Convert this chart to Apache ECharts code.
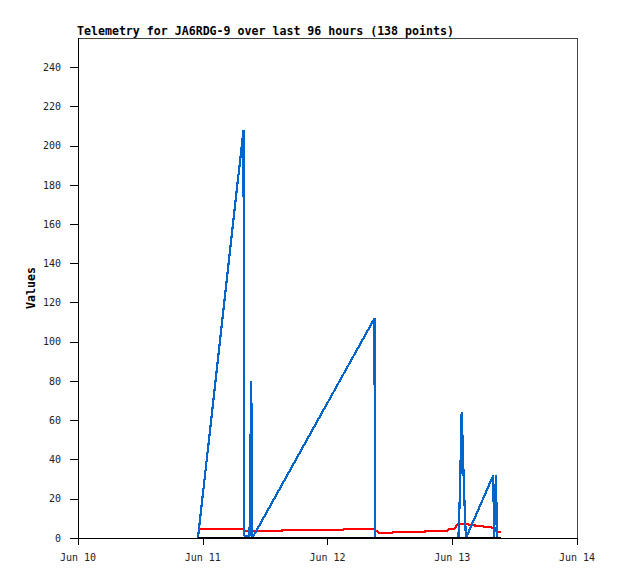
<!DOCTYPE html>
<html>
<head>
<meta charset="utf-8">
<title>Telemetry for JA6RDG-9</title>
<script src="https://cdn.jsdelivr.net/npm/echarts@6/dist/echarts.min.js"></script>
<style>
  html, body { margin: 0; padding: 0; background: #fff; }
  #chart { width: 618px; height: 579px; }
  /* the original is a pixel-drawn image: keep lines hard-edged */
  #chart svg path { shape-rendering: crispEdges; }
</style>
</head>
<body>
<div id="chart"></div>
<script>
// data; times are "Jun DD hh:mm"
var dayTicks = ['Jun 10', 'Jun 11', 'Jun 12', 'Jun 13', 'Jun 14'];
var valueTicks = [0, 20, 40, 60, 80, 100, 120, 140, 160, 180, 200, 220, 240];

var blueTimes = ['Jun 10 23:05', 'Jun 11 07:50', 'Jun 11 08:00', 'Jun 11 09:00', 'Jun 11 09:09',
  'Jun 11 09:20', 'Jun 11 09:32', 'Jun 12 09:02', 'Jun 12 09:08', 'Jun 13 01:11',
  'Jun 13 01:20', 'Jun 13 01:34', 'Jun 13 01:41', 'Jun 13 01:49', 'Jun 13 01:57',
  'Jun 13 02:11', 'Jun 13 02:27', 'Jun 13 02:38', 'Jun 13 07:54', 'Jun 13 08:02',
  'Jun 13 08:25', 'Jun 13 08:36'];
var blueValues = [0, 208, 1, 1, 40, 80, 0, 112, 0, 0, 11, 32, 53, 64, 53, 32, 11, 0, 32, 0, 32, 0];

var redTimes = ['Jun 10 23:05', 'Jun 11 07:50', 'Jun 11 08:00', 'Jun 11 15:15', 'Jun 11 15:20',
  'Jun 12 02:59', 'Jun 12 03:05', 'Jun 12 09:02', 'Jun 12 09:08', 'Jun 12 09:43',
  'Jun 12 09:49', 'Jun 12 12:30', 'Jun 12 12:36', 'Jun 12 18:45', 'Jun 12 18:51',
  'Jun 12 23:05', 'Jun 12 23:11', 'Jun 13 00:20', 'Jun 13 01:00', 'Jun 13 03:00',
  'Jun 13 03:25', 'Jun 13 04:22', 'Jun 13 04:28', 'Jun 13 05:55', 'Jun 13 06:01',
  'Jun 13 07:33', 'Jun 13 07:39', 'Jun 13 08:18', 'Jun 13 08:30', 'Jun 13 09:17'];
var redValues = [4.7, 4.7, 3.7, 3.7, 4.1, 4.1, 4.6, 4.6, 3.4, 3.4,
  2.7, 2.7, 3.1, 3.1, 3.7, 3.7, 4.4, 4.4, 7.0, 7.0,
  6.5, 6.5, 6.1, 6.1, 5.6, 5.6, 5.1, 5.1, 3.2, 3.2];

var blackTimes = ['Jun 10 23:05', 'Jun 13 09:17'];
var blackValues = [0, 0];

// hours since Jun 10 00:00
function toHours(s) {
  var p = s.split(' ');
  var hm = p[2].split(':');
  return (parseInt(p[1], 10) - 10) * 24 + parseInt(hm[0], 10) + parseInt(hm[1], 10) / 60;
}
function pairs(times, values) {
  return times.map(function (t, i) { return [toHours(t), values[i]]; });
}

var chart = echarts.init(document.getElementById('chart'), null, { renderer: 'svg' });
var mono = 'DejaVu Sans Mono';

chart.setOption({
  animation: false,
  backgroundColor: '#fff',
  title: {
    text: 'Telemetry for JA6RDG-9 over last 96 hours (138 points)',
    left: 77,
    top: 25,
    padding: 0,
    textStyle: { fontFamily: mono, fontSize: 11.6, fontWeight: 'bold', color: '#000' }
  },
  grid: {
    left: 78, right: 41, top: 38, bottom: 41,
    show: true, borderColor: '#444', borderWidth: 1, backgroundColor: 'transparent'
  },
  xAxis: {
    type: 'value',
    min: 0, max: 96, interval: 24,
    splitLine: { show: false },
    axisLine: { lineStyle: { color: '#000', width: 1 } },
    axisTick: { length: 7, lineStyle: { color: '#000' } },
    axisLabel: {
      margin: 14,
      fontFamily: mono, fontSize: 10, color: '#222',
      formatter: function (v) { return dayTicks[Math.round(v / 24)]; }
    }
  },
  yAxis: {
    type: 'value',
    min: 0, max: 255, interval: 20,
    name: 'Values',
    nameLocation: 'middle',
    nameGap: 41,
    nameMoveOverlap: false,
    nameTextStyle: { fontFamily: mono, fontSize: 11.6, fontWeight: 'bold', color: '#000' },
    splitLine: { show: false },
    axisLine: { show: true, lineStyle: { color: '#000', width: 1 } },
    axisTick: { show: true, length: 8, customValues: valueTicks, lineStyle: { color: '#000' } },
    axisLabel: {
      margin: 17,
      customValues: valueTicks,
      fontFamily: mono, fontSize: 10, color: '#222'
    }
  },
  series: [
    {
      type: 'line', data: pairs(redTimes, redValues),
      showSymbol: false, lineStyle: { color: '#ff0000', width: 2.2 }
    },
    {
      type: 'line', data: pairs(blueTimes, blueValues),
      showSymbol: false, lineStyle: { color: '#0066cc', width: 2.2 }
    },
    {
      type: 'line', data: pairs(blackTimes, blackValues),
      showSymbol: false, lineStyle: { color: '#000', width: 2 }
    }
  ]
});
</script>
</body>
</html>
